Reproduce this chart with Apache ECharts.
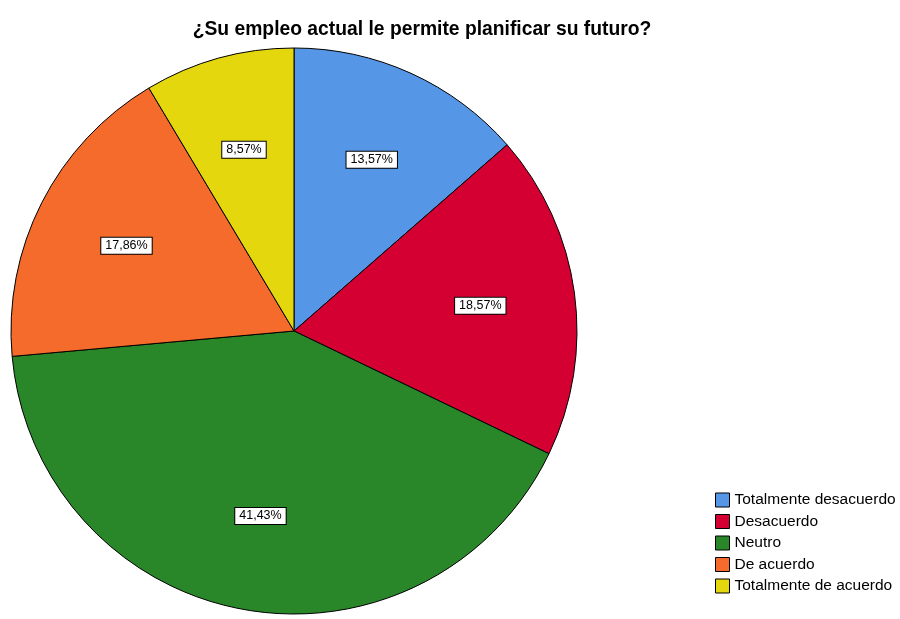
<!DOCTYPE html>
<html>
<head>
<meta charset="utf-8">
<script src="https://cdn.jsdelivr.net/npm/echarts@6/dist/echarts.min.js"></script>
<style>
  html, body { margin: 0; padding: 0; background: #fff; }
  #main { width: 900px; height: 619px; }
</style>
</head>
<body>
<div id="main"></div>
<script>
// datos
var categorias = ['Totalmente desacuerdo', 'Desacuerdo', 'Neutro', 'De acuerdo', 'Totalmente de acuerdo'];
var porcentajes = [13.57, 18.57, 41.43, 17.86, 8.57];
var colores = ['#5596e6', '#d50032', '#29872a', '#f46b2c', '#e5d70d'];

var datos = categorias.map(function (c, i) {
    return { name: c, value: porcentajes[i] };
});

var myChart = echarts.init(document.getElementById('main'));

var option = {
    animation: false,
    color: colores,
    title: {
        text: '¿Su empleo actual le permite planificar su futuro?',
        left: 417,
        textAlign: 'center',
        top: 15,
        textStyle: {
            fontFamily: 'Liberation Sans',
            fontSize: 19.3,
            fontWeight: 'bold',
            color: '#000'
        }
    },
    legend: {
        orient: 'vertical',
        left: 715,
        top: 492,
        itemWidth: 14,
        itemHeight: 14,
        itemGap: 5.5,
        icon: 'rect',
        padding: 0,
        data: categorias,
        itemStyle: { borderColor: '#000', borderWidth: 1 },
        textStyle: {
            fontFamily: 'Liberation Sans',
            fontSize: 15.5,
            lineHeight: 14,
            color: '#000',
            padding: [0, 0, 0, 0]
        }
    },
    series: [
        {
            // pastel visible
            type: 'pie',
            center: [294, 331],
            radius: 283,
            startAngle: 90,
            clockwise: true,
            label: { show: false },
            labelLine: { show: false },
            itemStyle: { borderColor: '#000', borderWidth: 1 },
            data: datos
        },
        {
            // serie transparente solo para colocar las etiquetas
            type: 'pie',
            center: [294, 331],
            radius: [87, 283],
            startAngle: 90,
            clockwise: true,
            silent: true,
            legendHoverLink: false,
            itemStyle: { color: 'rgba(0,0,0,0)', borderWidth: 0 },
            label: {
                show: true,
                position: 'inside',
                formatter: function (p) {
                    return p.value.toFixed(2).replace('.', ',') + '%';
                },
                fontFamily: 'Liberation Sans',
                fontSize: 12.5,
                color: '#000',
                backgroundColor: '#fff',
                borderColor: '#000',
                borderWidth: 1,
                padding: [2, 4, 1, 4]
            },
            data: datos
        }
    ]
};

myChart.setOption(option);
</script>
</body>
</html>
